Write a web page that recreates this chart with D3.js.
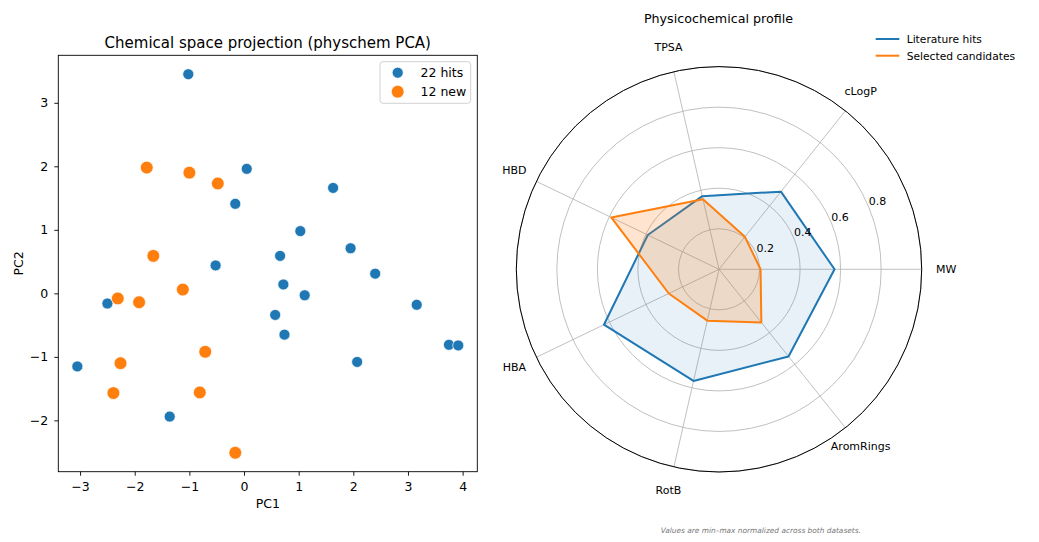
<!DOCTYPE html>
<html>
<head>
<meta charset="utf-8">
<script src="https://cdn.jsdelivr.net/npm/d3@7"></script>
<style>
  html, body { margin: 0; padding: 0; background: #fff; }
  svg { display: block; font-family: "DejaVu Sans", sans-serif; }
</style>
</head>
<body>
<svg id="chart" width="1039" height="542"></svg>
<script>
// ---------------- data ----------------
const hitsPC1 = [-1.02, 0.05, -0.16, 1.63, 1.03, 1.95, 0.66, -0.52, 2.40, 0.72, 1.11, -2.50, 3.16, 0.57, 0.74, 3.75, 3.92, 2.07, -3.05, -1.36];
const hitsPC2 = [3.45, 1.96, 1.41, 1.66, 0.98, 0.71, 0.59, 0.44, 0.31, 0.14, -0.03, -0.16, -0.18, -0.34, -0.65, -0.81, -0.82, -1.08, -1.15, -1.94];
const newPC1 = [-1.78, -1.00, -0.48, -1.66, -1.12, -2.31, -1.92, -0.71, -2.26, -2.39, -0.81, -0.16];
const newPC2 = [1.98, 1.90, 1.73, 0.59, 0.06, -0.08, -0.14, -0.92, -1.10, -1.57, -1.56, -2.51];
const xTicks = [-3, -2, -1, 0, 1, 2, 3, 4];
const yTicks = [-2, -1, 0, 1, 2, 3];
const scatterLegend = ["22 hits", "12 new"];

const radarAxes = ["MW", "cLogP", "TPSA", "HBD", "HBA", "RotB", "AromRings"];
const literatureHits = [0.57, 0.49, 0.37, 0.39, 0.63, 0.565, 0.55];
const selectedCandidates = [0.205, 0.205, 0.355, 0.59, 0.275, 0.26, 0.335];
const radialTicks = [0.2, 0.4, 0.6, 0.8];
const radarLegend = ["Literature hits", "Selected candidates"];

const BLUE = "#1f77b4", ORANGE = "#ff7f0e";
const svg = d3.select("#chart");

// ---------------- scatter ----------------
const L = 58.3, R = 477.3, T = 55.3, B = 471.7;
function padded(vals) {
  const [a, b] = d3.extent(vals); const p = (b - a) * 0.05; return [a - p, b + p];
}
const x = d3.scaleLinear().domain(padded(hitsPC1.concat(newPC1))).range([L, R]);
const y = d3.scaleLinear().domain(padded(hitsPC2.concat(newPC2))).range([B, T]);

const gx = svg.append("g").attr("transform", `translate(0,${B})`)
  .call(d3.axisBottom(x).tickValues(xTicks).tickSize(4).tickPadding(6.5).tickFormat(d3.format("d")));
const gy = svg.append("g").attr("transform", `translate(${L},0)`)
  .call(d3.axisLeft(y).tickValues(yTicks).tickSize(4).tickPadding(6).tickFormat(d3.format("d")));
[gx, gy].forEach(g => {
  g.select(".domain").remove();
  g.selectAll("text").attr("font-size", 12.5).attr("fill", "#000").attr("font-family", "DejaVu Sans");
  g.selectAll("line").attr("stroke", "#000").attr("stroke-width", 0.9);
});

const hitsData = hitsPC1.map((v, i) => [v, hitsPC2[i]]);
const newData = newPC1.map((v, i) => [v, newPC2[i]]);
svg.append("g").selectAll("circle").data(hitsData).join("circle")
  .attr("cx", d => x(d[0])).attr("cy", d => y(d[1])).attr("r", 5.5)
  .attr("fill", BLUE).attr("stroke", "#fff").attr("stroke-width", 0.7);
svg.append("g").selectAll("circle").data(newData).join("circle")
  .attr("cx", d => x(d[0])).attr("cy", d => y(d[1])).attr("r", 6.4)
  .attr("fill", ORANGE).attr("stroke", "#fff").attr("stroke-width", 0.7);

svg.append("rect").attr("x", L).attr("y", T).attr("width", R - L).attr("height", B - T)
  .attr("fill", "none").attr("stroke", "#000").attr("stroke-width", 0.9);

svg.append("text").attr("x", (L + R) / 2).attr("y", 48).attr("text-anchor", "middle")
  .attr("font-size", 15).text("Chemical space projection (physchem PCA)");
svg.append("text").attr("x", (L + R) / 2).attr("y", 508).attr("text-anchor", "middle")
  .attr("font-size", 12.5).text("PC1");
svg.append("text").attr("transform", `translate(22.8,${(T + B) / 2}) rotate(-90)`)
  .attr("text-anchor", "middle").attr("font-size", 12.5).text("PC2");

// scatter legend
const lg = svg.append("g");
lg.append("rect").attr("x", 380).attr("y", 61.7).attr("width", 90.7).attr("height", 41.6)
  .attr("rx", 3).attr("fill", "#fff").attr("fill-opacity", 0.8).attr("stroke", "#cccccc").attr("stroke-width", 0.9);
const lgRows = [{ c: BLUE, r: 5.5, y: 72.7 }, { c: ORANGE, r: 6.4, y: 91.7 }];
lgRows.forEach((row, i) => {
  lg.append("circle").attr("cx", 397.7).attr("cy", row.y).attr("r", row.r).attr("fill", row.c)
    .attr("stroke", "#fff").attr("stroke-width", 0.7);
  lg.append("text").attr("x", 420.5).attr("y", row.y + 4.5).attr("font-size", 12.5).text(scatterLegend[i]);
});

// ---------------- radar ----------------
const cx = 719, cy = 269.3, RR = 202.7;
const rScale = d3.scaleLinear().domain([0, 1]).range([0, RR]);
const n = radarAxes.length;
const theta = i => i * 2 * Math.PI / n; // math angle, ccw from east
const rg = svg.append("g").attr("transform", `translate(${cx},${cy})`);

// rings
radialTicks.concat([1]).forEach(t => {
  rg.append("circle").attr("r", rScale(t)).attr("fill", "none")
    .attr("stroke", "#b0b0b0").attr("stroke-width", 0.8);
});
// spokes
radarAxes.forEach((a, i) => {
  rg.append("line").attr("x1", 0).attr("y1", 0)
    .attr("x2", rScale(1) * Math.cos(theta(i))).attr("y2", -rScale(1) * Math.sin(theta(i)))
    .attr("stroke", "#b0b0b0").attr("stroke-width", 0.8);
});

// polygons (d3 radial angle: clockwise from north)
const radial = d3.lineRadial()
  .angle((d, i) => Math.PI / 2 - theta(i))
  .radius(d => rScale(d))
  .curve(d3.curveLinearClosed);

rg.append("path").attr("d", radial(literatureHits)).attr("fill", BLUE).attr("fill-opacity", 0.1).attr("stroke", "none");
rg.append("path").attr("d", radial(literatureHits)).attr("fill", "none").attr("stroke", BLUE)
  .attr("stroke-width", 2).attr("stroke-linejoin", "round");
rg.append("path").attr("d", radial(selectedCandidates)).attr("fill", ORANGE).attr("fill-opacity", 0.2).attr("stroke", "none");
rg.append("path").attr("d", radial(selectedCandidates)).attr("fill", "none").attr("stroke", ORANGE)
  .attr("stroke-width", 2).attr("stroke-linejoin", "round");

// outer spine
rg.append("circle").attr("r", RR).attr("fill", "none").attr("stroke", "#000").attr("stroke-width", 1);

// theta labels
radarAxes.forEach((a, i) => {
  const rl = RR + 24.5;
  rg.append("text").attr("x", rl * Math.cos(theta(i))).attr("y", -rl * Math.sin(theta(i)))
    .attr("text-anchor", "middle").attr("dominant-baseline", "central")
    .attr("font-size", 11).text(a);
});
// radial tick labels at 22.5 deg
const ra = 22.5 * Math.PI / 180;
radialTicks.forEach(t => {
  rg.append("text").attr("x", rScale(t) * Math.cos(ra)).attr("y", -rScale(t) * Math.sin(ra) - 2)
    .attr("font-size", 11).text(d3.format(".1f")(t));
});

svg.append("text").attr("x", 718.5).attr("y", 22.8).attr("text-anchor", "middle")
  .attr("font-size", 12.7).text("Physicochemical profile");

// radar legend
[BLUE, ORANGE].forEach((c, i) => {
  const yy = 39 + i * 16.7;
  svg.append("line").attr("x1", 875.7).attr("x2", 899.3).attr("y1", yy).attr("y2", yy)
    .attr("stroke", c).attr("stroke-width", 2);
  svg.append("text").attr("x", 906.7).attr("y", yy + 3.8).attr("font-size", 10.7).text(radarLegend[i]);
});

svg.append("text").attr("x", 760.8).attr("y", 532.5).attr("text-anchor", "middle")
  .attr("font-size", 7.4).attr("font-style", "italic").attr("fill", "#777")
  .text("Values are min\u2013max normalized across both datasets.");
</script>
</body>
</html>
